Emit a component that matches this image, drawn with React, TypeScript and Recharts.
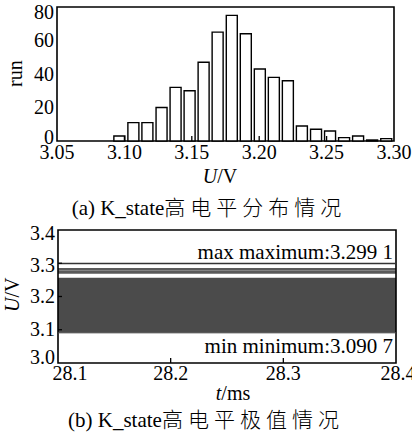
import { BarChart, Bar, XAxis, YAxis, ComposedChart, ReferenceArea, ReferenceLine } from 'recharts';

// (a) histogram of the high level
const binCenters = [
  3.0959, 3.1063, 3.1167, 3.1272, 3.1376, 3.148, 3.1584, 3.1688, 3.1793, 3.1897,
  3.2001, 3.2105, 3.2209, 3.2313, 3.2418, 3.2522, 3.2626, 3.273, 3.2834, 3.2939,
];
const runCounts = [3, 11, 11, 20, 32, 30, 47, 65, 75, 64, 43, 38, 36, 9, 7, 6, 2, 3, 0.6, 1.4];
const voltTicks = [3.05, 3.1, 3.15, 3.2, 3.25, 3.3];
const runTicks = [0, 20, 40, 60, 80];

// (b) extreme values over time
const timeTicks = [28.1, 28.2, 28.3, 28.4];
const levelTicks = [3.0, 3.1, 3.2, 3.3, 3.4];
const bandLow = [3.0907, 3.2685, 3.2775];
const bandHigh = [3.2565, 3.2768, 3.2857];
const maxLevel = 3.2991;
const minLevel = 3.0907;

const FONT = "'Liberation Serif', 'Times New Roman', Tinos, 'DejaVu Serif', serif";
const CJK = "'Noto Sans CJK SC', sans-serif";
const DARK = '#4b4b4b';

const histData = binCenters.map((x, i) => ({ x, count: runCounts[i] }));
const timeData = [{ t: timeTicks[0] }, { t: timeTicks[timeTicks.length - 1] }];

function HistXTick({ x, y, payload, index }: any) {
  return (
    <g>
      {index > 0 && index < voltTicks.length - 1 && (
        <line x1={x} x2={x} y1={y} y2={y - 5} stroke="#000" strokeWidth={1.3} />
      )}
      <text x={x} y={y + 18} textAnchor="middle" fontSize={20} fontFamily={FONT} fill="#000">
        {payload.value.toFixed(2)}
      </text>
    </g>
  );
}

function HistYTick({ x, y, payload, index }: any) {
  const shift = index === 0 ? -4 : index === runTicks.length - 1 ? 5 : 0;
  return (
    <text x={x - 3} y={y + shift + 6.5} textAnchor="end" fontSize={20} fontFamily={FONT} fill="#000">
      {payload.value}
    </text>
  );
}

function TimeXTick({ x, y, payload, index }: any) {
  const shift = index === 0 ? 12 : index === timeTicks.length - 1 ? 2 : 0;
  return (
    <g>
      {index > 0 && index < timeTicks.length - 1 && (
        <line x1={x} x2={x} y1={y} y2={y - 5} stroke="#000" strokeWidth={1.3} />
      )}
      <text x={x + shift} y={y + 17} textAnchor="middle" fontSize={20} fontFamily={FONT} fill="#000">
        {payload.value.toFixed(1)}
      </text>
    </g>
  );
}

function LevelYTick({ x, y, payload, index }: any) {
  const shift = index === 0 ? -6 : index === levelTicks.length - 1 ? 3 : index === 3 ? 2 : 0;
  return (
    <g>
      {index > 0 && index < levelTicks.length - 1 && (
        <line x1={x} x2={x + 4} y1={y} y2={y} stroke="#000" strokeWidth={1.3} />
      )}
      <text x={x - 3} y={y + shift + 6.5} textAnchor="end" fontSize={20} fontFamily={FONT} fill="#000">
        {payload.value.toFixed(1)}
      </text>
    </g>
  );
}

const textBase: React.CSSProperties = {
  position: 'absolute',
  fontFamily: FONT,
  fontSize: 20,
  lineHeight: '24px',
  color: '#000',
  whiteSpace: 'nowrap',
};

const cjkSpan: React.CSSProperties = { fontFamily: CJK, fontSize: 21, letterSpacing: 5, fontWeight: 300 };

export default function App() {
  return (
    <div style={{ position: 'absolute', left: 0, top: 0, width: 412, height: 435, background: '#fff', overflow: 'hidden' }}>
      <div style={{ position: 'absolute', left: 0, top: 0 }}>
        <BarChart width={412} height={190} data={histData} margin={{ top: 7, right: 18, bottom: 0, left: 0 }}>
          <XAxis
            dataKey="x"
            type="number"
            domain={[3.05, 3.3]}
            ticks={voltTicks}
            interval={0}
            allowDataOverflow
            height={49}
            axisLine={false}
            tickLine={false}
            tickSize={0}
            tickMargin={0}
            tick={<HistXTick />}
          />
          <YAxis
            type="number"
            domain={[0, 80]}
            ticks={runTicks}
            interval={0}
            width={57}
            axisLine={false}
            tickLine={false}
            tickSize={0}
            tickMargin={0}
            tick={<HistYTick />}
          />
          <Bar dataKey="count" fill="#fff" stroke="#000" strokeWidth={1.4} barSize={11} isAnimationActive={false} />
          <ReferenceArea x1={3.05} x2={3.3} y1={0} y2={80} fill="none" stroke="#000" strokeWidth={1.6} />
        </BarChart>
      </div>

      <div style={{ ...textBase, left: 3, top: 63, transform: 'rotate(-90deg)', transformOrigin: '12px 12px', width: 24 }}>run</div>
      <div style={{ ...textBase, left: 0, width: 440, top: 164, textAlign: 'center' }}>
        <i>U</i>/V
      </div>
      <div style={{ ...textBase, fontSize: 21, left: 0, width: 418, top: 194, textAlign: 'center' }}>
        (a) K_state<span style={cjkSpan}>高电平分布情况</span>
      </div>

      <div style={{ position: 'absolute', left: 0, top: 223 }}>
        <ComposedChart width={412} height={170} data={timeData} margin={{ top: 7, right: 16, bottom: 0, left: 0 }}>
          <XAxis
            dataKey="t"
            type="number"
            domain={[28.1, 28.4]}
            ticks={timeTicks}
            interval={0}
            allowDataOverflow
            height={30}
            axisLine={false}
            tickLine={false}
            tickSize={0}
            tickMargin={0}
            tick={<TimeXTick />}
          />
          <YAxis
            type="number"
            domain={[3.0, 3.4]}
            ticks={levelTicks}
            interval={0}
            allowDataOverflow
            width={58}
            axisLine={false}
            tickLine={false}
            tickSize={0}
            tickMargin={0}
            tick={<LevelYTick />}
          />
          {bandLow.map((lo, i) => (
            <ReferenceArea
              key={i}
              x1={28.1}
              x2={28.4}
              y1={lo}
              y2={bandHigh[i]}
              fill={i === 0 ? DARK : '#5a5a5a'}
              fillOpacity={1}
              stroke="none"
            />
          ))}
          <ReferenceLine
            y={maxLevel}
            stroke="#333"
            strokeWidth={1.6}
            label={(props: any) => {
              const vb = props.viewBox;
              return (
                <text x={vb.x + vb.width - 3} y={vb.y - 5} textAnchor="end" fontSize={21} fontFamily={FONT} fill="#000">
                  max maximum:3.299 1
                </text>
              );
            }}
          />
          <ReferenceLine
            y={minLevel}
            stroke={DARK}
            strokeWidth={1}
            label={(props: any) => {
              const vb = props.viewBox;
              return (
                <text x={vb.x + vb.width - 3} y={vb.y + 20} textAnchor="end" fontSize={21} fontFamily={FONT} fill="#000">
                  min minimum:3.090 7
                </text>
              );
            }}
          />
          <ReferenceArea x1={28.1} x2={28.4} y1={3.0} y2={3.4} fill="none" stroke="#000" strokeWidth={1.6} />
        </ComposedChart>
      </div>

      <div style={{ ...textBase, left: 0, top: 288, transform: 'rotate(-90deg)', transformOrigin: '12px 12px', width: 40 }}>
        <i>U</i>/V
      </div>
      <div style={{ ...textBase, left: 0, width: 466, top: 381, textAlign: 'center' }}>
        <i>t</i>/ms
      </div>
      <div style={{ ...textBase, fontSize: 21, left: 0, width: 412, top: 406, textAlign: 'center' }}>
        (b) K_state<span style={cjkSpan}>高电平极值情况</span>
      </div>
    </div>
  );
}
